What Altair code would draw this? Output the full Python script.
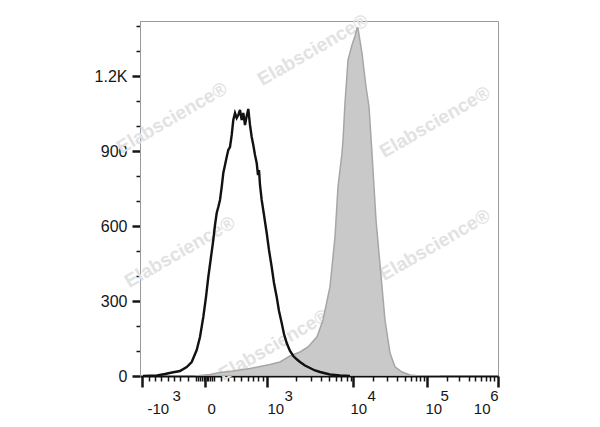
import altair as alt
import pandas as pd

# ---------------- data (x in display-channel units of the biexponential axis) ----------------
stain_x = [55, 60, 70, 80, 90, 100, 110, 120, 130, 140, 150, 160, 168, 177, 183, 190, 195, 198,
           202, 203, 205, 208, 212, 215, 217, 218, 222, 226, 229, 232, 236, 242, 245, 250, 255,
           262, 270, 280, 300]
stain_y = [0, 2, 6, 14, 18, 24, 30, 38, 46, 56, 80, 96, 116, 157, 224, 357, 557, 757,
           892, 944, 1092, 1264, 1324, 1360, 1392, 1391, 1291, 1157, 1077, 891, 624, 357, 224, 92, 37,
           16, 4, 0, 0]

ctrl_x = [3, 10, 17, 25, 32, 40, 46.7, 51.7, 56.7, 60, 63.3, 66, 68.3, 71, 73.3, 75, 76.7, 78.3,
          80, 81.7, 83.3, 85, 86.7, 88.3, 90, 91.7, 93.3, 95, 96.7, 98.3, 100, 101.7, 103.3, 105,
          106.7, 108.3, 110, 111.7, 113.3, 115, 116.7, 118, 119, 120, 121.7, 124, 126.7, 129,
          131.7, 134, 136.7, 139, 141.7, 144, 146.7, 150, 153.3, 157, 160, 165, 170, 175, 180,
          185, 190, 200, 210]
ctrl_y = [0, 1, 2, 8, 14, 20, 36, 56, 104, 156, 236, 316, 396, 476, 544, 604, 652, 676,
          704, 756, 812, 844, 876, 904, 916, 964, 1024, 1052, 1032, 1044, 1064, 1024, 1052, 1004,
          1040, 1068, 1004, 956, 924, 884, 852, 804, 824, 764, 704, 644, 572, 504,
          436, 372, 316, 260, 212, 168, 132, 100, 80, 66, 56, 42, 32, 22, 16,
          11, 6, 2, 0]

# x axis: major tick positions with their labels (base and exponent), minor tick positions
x_major = [2, 65, 127, 213, 287, 358]
x_base = ["-10", "0", "10", "10", "10", "10"]
x_exp = ["3", "", "3", "4", "5", "6"]
x_minor = [9, 15, 21, 28, 34, 40, 48,
           56, 58, 60, 62, 63.5, 66.5, 68, 70, 72, 74,
           81, 88, 94, 101, 108, 113, 118, 122.5,
           156, 171, 181, 189, 196, 201, 206.5, 210.5,
           233, 247, 257, 265, 271, 276, 280, 284,
           307, 319, 329, 335, 341, 346, 350, 354]

# y axis
y_ticks = list(range(0, 1401, 100))
y_major = [0, 300, 600, 900, 1200]
y_labels = ["0", "300", "600", "900", "1.2K"]

watermark = "Elabscience®"

# ---------------- layout / style constants ----------------
W, H = 358, 355
XDOM = [0, 358]
YDOM = [0, 1420]
FONT = "Liberation Sans"
INK = "#161616"

base_dx = {2: 5, 65: 2, 127: 0, 213: -3, 287: -2, 358: -8}
exp_dx = {2: 30, 127: 17, 213: 14, 287: 13, 358: 0}
wm_pos = [(173, 29), (32, 97), (295, 101), (40, 231), (295, 224), (134, 324)]

stain = pd.DataFrame({"x": stain_x, "y": stain_y})
ctrl = pd.DataFrame({"x": ctrl_x, "y": ctrl_y})


def map_expr(keys, vals):
    e = "''"
    for k, v in reversed(list(zip(keys, vals))):
        e = f"datum.value === {k} ? '{v}' : ({e})"
    return e


def offset_cond(d):
    return {"condition": [{"test": f"datum.value === {k}", "value": v} for k, v in d.items()],
            "value": 0}


major_list = "[" + ",".join(str(v) for v in x_major) + "]"
major_test = f"indexof({major_list}, datum.value) >= 0"
x_all = sorted(x_major + x_minor)

xscale = alt.Scale(domain=XDOM, nice=False, zero=False)
yscale = alt.Scale(domain=YDOM, nice=False, zero=False)

y_axis = alt.Axis(
    values=y_ticks, title=None, grid=False,
    labelExpr=map_expr(y_major, y_labels),
    labelFont=FONT, labelFontSize=16, labelColor=INK, labelPadding=5,
    labelOverlap=False, labelFlush=False,
    domainColor="#9a9a9a", domainWidth=1,
    tickColor=INK,
    tickSize={"condition": {"test": "datum.value % 300 === 0", "value": 8}, "value": 4},
    tickWidth={"condition": {"test": "datum.value % 300 === 0", "value": 2.5}, "value": 1.5},
)

x_axis_main = alt.Axis(
    values=x_all, title=None, grid=False, orient="bottom",
    labelExpr=map_expr(x_major, x_base),
    labelFont=FONT, labelFontSize=15, labelColor=INK,
    labelOverlap=False, labelFlush=False, labelBound=False,
    labelBaseline="top", labelPadding=14,
    labelAlign={"condition": {"test": "datum.value === 358", "value": "right"}, "value": "left"},
    labelOffset=offset_cond(base_dx),
    domainColor="#111111", domainWidth=2,
    tickColor=INK,
    tickSize={"condition": {"test": major_test, "value": 11}, "value": 5},
    tickWidth={"condition": {"test": major_test, "value": 2.5}, "value": 1.5},
)

x_axis_exp = alt.Axis(
    values=x_major, title=None, grid=False, orient="bottom",
    labelExpr=map_expr(x_major, x_exp),
    labelFont=FONT, labelFontSize=15, labelColor=INK,
    labelOverlap=False, labelFlush=False, labelBound=False,
    labelBaseline="top", labelPadding=12, ticks=False, domain=False,
    labelAlign={"condition": {"test": "datum.value === 358", "value": "right"}, "value": "left"},
    labelOffset=offset_cond(exp_dx),
)

wm_layers = [
    alt.Chart(pd.DataFrame({"t": [watermark]})).mark_text(
        font=FONT, fontSize=19, fontWeight="bold", color="#e2e2e2", angle=330,
        align="center", baseline="middle"
    ).encode(x=alt.value(px), y=alt.value(py), text="t:N")
    for px, py in wm_pos
]

area = alt.Chart(stain).mark_area(
    fill="#c9c9c9", stroke="#a6a6a6", strokeWidth=1.5, clip=True
).encode(
    x=alt.X("x:Q", scale=xscale, axis=x_axis_main),
    y=alt.Y("y:Q", scale=yscale, axis=y_axis),
)

line = alt.Chart(ctrl).mark_line(color="#111111", strokeWidth=2.4, clip=True).encode(
    x=alt.X("x:Q", scale=xscale, axis=x_axis_exp),
    y=alt.Y("y:Q", scale=yscale, axis=y_axis),
)

chart = alt.layer(*wm_layers, area, line).resolve_axis(x="independent").properties(
    width=W, height=H,
    autosize=alt.AutoSizeParams(type="none"),
    padding={"left": 132, "top": 13, "right": 94, "bottom": 43},
).configure_view(stroke="#9a9a9a", strokeWidth=1)

chart.save("out.html", embed_options={"renderer": "svg", "actions": False})
